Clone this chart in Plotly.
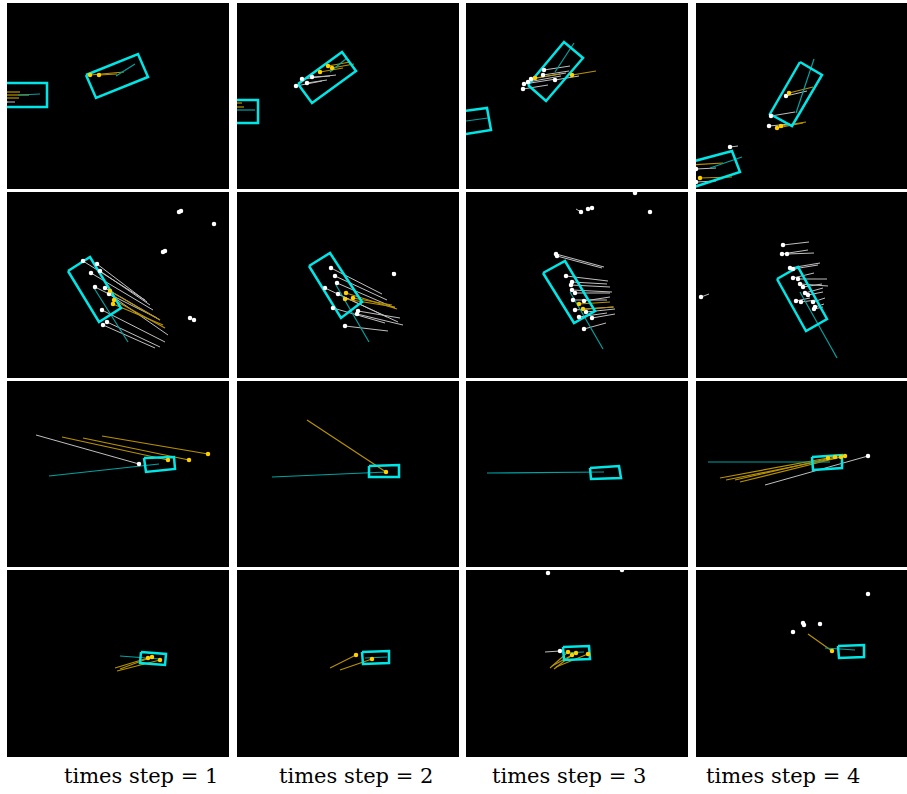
import plotly.graph_objects as go

# ---------------- data (panel-local pixel coordinates, y downward) -------------
STEP_LABELS = ["times step = 1", "times step = 2", "times step = 3", "times step = 4"]

# vehicle boxes: list of corner lists per panel
BOXES = {
    "r1c1": [[(79, 72), (131, 51), (141, 74), (89, 95)],
             [(-40, 80), (40, 80), (40, 104), (-40, 104)]],
    "r1c2": [[(61, 81), (105, 49), (119, 68), (75, 100)],
             [(-30, 97), (21, 97), (21, 120), (-30, 120)]],
    "r1c3": [[(62, 82), (98, 39), (117, 55), (80, 98)],
             [(-25, 111), (21, 105), (25, 127), (-25, 135)]],
    "r1c4": [[(104, 59), (126, 72), (96, 123), (74, 111)],
             [(-20, 163), (36, 148), (44, 169), (-20, 190)]],
    "r2c1": [[(61, 79), (83, 65), (114, 116), (92, 130)]],
    "r2c2": [[(72, 74), (93, 61), (125, 110), (104, 126)]],
    "r2c3": [[(77, 81), (99, 69), (129, 119), (108, 131)]],
    "r2c4": [[(81, 87), (102, 75), (131, 127), (110, 139)]],
    "r3c1": [[(137, 77), (167, 76), (168, 88), (139, 91)]],
    "r3c2": [[(132, 85), (162, 84), (162, 96), (132, 96)]],
    "r3c3": [[(124, 87), (153, 85), (155, 97), (125, 98)]],
    "r3c4": [[(116, 76), (146, 74), (146, 87), (117, 89)]],
    "r4c1": [[(134, 82), (159, 84), (158, 95), (133, 93)]],
    "r4c2": [[(125, 82), (152, 81), (152, 93), (126, 94)]],
    "r4c3": [[(97, 77), (123, 76), (124, 89), (98, 90)]],
    "r4c4": [[(142, 76), (168, 75), (168, 87), (143, 88)]],
}

# heading / planned-path lines (x0, y0, x1, y1)
HEADINGS = {
    "r1c1": [(109, 73, 128, 61), (11, 92, 33, 91)],
    "r1c2": [(93, 69, 110, 55), (0, 107, 18, 107)],
    "r1c3": [(89, 69, 108, 40), (0, 118, 22, 115)],
    "r1c4": [(100, 110, 118, 56), (14, 165, 46, 154)],
    "r2c1": [(87, 96, 121, 150)],
    "r2c2": [(99, 93, 132, 150)],
    "r2c3": [(104, 100, 137, 157)],
    "r2c4": [(104, 100, 141, 166)],
    "r3c1": [(42, 95, 152, 83)],
    "r3c2": [(35, 96, 150, 91)],
    "r3c3": [(21, 92, 138, 91)],
    "r3c4": [(12, 81, 134, 81)],
    "r4c1": [(113, 86, 153, 89)],
    "r4c2": [(128, 88, 150, 87)],
    "r4c3": [(96, 83, 118, 82)],
    "r4c4": [(129, 78, 159, 80)],
}

# white agents: dot at (x0, y0), trail to (x1, y1)
WHITE_TRAILS = {
    "r1c1": [(-2, 99, 8, 99)],
    "r1c2": [(59, 83, 85, 78), (65, 76, 99, 72), (75, 74, 93, 73), (70, 80, 90, 77)],
    "r1c3": [(57, 86, 82, 82), (58, 81, 90, 76), (62, 79, 95, 73), (65, 76, 100, 70),
             (78, 67, 104, 63), (77, 72, 103, 68), (89, 77, 113, 73)],
    "r1c4": [(90, 93, 111, 88), (75, 113, 99, 109), (73, 123, 94, 121),
             (34, 144, 42, 143), (0, 166, 20, 165), (0, 179, 20, 178)],
    "r2c1": [(76, 69, 138, 108), (90, 72, 140, 110), (93, 79, 143, 113), (84, 81, 146, 118),
             (88, 95, 150, 126), (98, 96, 153, 128), (102, 102, 161, 143),
             (95, 118, 158, 150), (100, 130, 153, 155), (96, 133, 148, 156)],
    "r2c2": [(94, 76, 145, 102), (98, 84, 150, 108), (100, 91, 158, 116), (88, 96, 150, 125),
             (101, 102, 161, 130), (96, 116, 148, 131), (108, 134, 151, 139),
             (120, 122, 166, 133), (121, 119, 163, 126), (157, 82, 155, 80)],
    "r2c3": [(90, 62, 138, 75), (91, 64, 136, 76), (100, 84, 142, 89), (106, 90, 141, 92),
             (105, 93, 144, 95), (106, 98, 146, 100), (109, 101, 144, 101),
             (107, 108, 141, 108), (118, 109, 144, 105), (109, 118, 147, 115),
             (120, 120, 149, 117), (126, 126, 149, 122), (113, 125, 141, 121),
             (118, 137, 140, 131), (115, 20, 110, 17)],
    "r2c4": [(87, 53, 113, 50), (86, 62, 112, 58), (91, 62, 118, 61), (94, 76, 124, 71),
             (97, 77, 122, 73), (97, 86, 118, 81), (102, 87, 131, 87), (104, 92, 132, 94),
             (107, 95, 126, 92), (109, 101, 127, 96), (112, 103, 127, 100),
             (100, 109, 114, 106), (105, 110, 120, 108), (117, 110, 129, 106),
             (118, 117, 127, 115), (119, 115, 128, 112), (5, 105, 13, 102)],
    "r3c1": [(132, 83, 29, 54)],
    "r3c4": [(172, 75, 69, 104)],
    "r4c3": [(94, 81, 79, 82)],
}

# gold agents: dot at (x0, y0), trail to (x1, y1)
GOLD_TRAILS = {
    "r1c1": [(83, 72, 117, 69), (92, 72, 110, 71), (-5, 89, 13, 89), (-5, 92, 22, 92),
             (-5, 95, 12, 95)],
    "r1c2": [(91, 63, 113, 59), (83, 69, 106, 65), (95, 65, 117, 61), (-5, 100, 5, 100),
             (-5, 104, 7, 104)],
    "r1c3": [(69, 75, 94, 71), (106, 72, 130, 68)],
    "r1c4": [(93, 90, 117, 84), (85, 123, 110, 119), (81, 125, 107, 120),
             (-5, 162, 27, 160), (4, 175, 36, 174)],
    "r2c1": [(103, 99, 153, 128), (107, 108, 158, 136), (106, 112, 156, 133)],
    "r2c2": [(109, 101, 160, 117), (108, 107, 158, 115), (116, 106, 155, 113)],
    "r2c3": [(113, 112, 144, 110), (117, 117, 148, 115)],
    "r3c1": [(161, 79, 55, 56), (182, 79, 76, 57), (201, 73, 95, 55)],
    "r3c2": [(149, 91, 70, 39)],
    "r3c4": [(132, 77, 24, 97), (139, 76, 39, 99), (149, 75, 44, 101), (145, 76, 30, 99)],
    "r4c1": [(141, 88, 108, 98), (145, 87, 113, 99), (153, 90, 110, 101)],
    "r4c2": [(119, 85, 93, 98), (135, 89, 103, 100)],
    "r4c3": [(102, 82, 84, 98), (106, 85, 88, 99), (122, 84, 90, 97), (110, 83, 86, 96)],
    "r4c4": [(136, 81, 112, 64)],
}

# isolated white points without visible trails
LONE_WHITE = {
    "r2c1": [(172, 20), (174, 19), (207, 32), (156, 60), (158, 59), (183, 126), (187, 128)],
    "r2c3": [(122, 17), (126, 16), (184, 20), (169, 1)],
    "r4c3": [(82, 3), (156, 0)],
    "r4c4": [(107, 53), (108, 55), (124, 54), (97, 62), (172, 24)],
}

# ---------------- layout constants ----------------
COL_X = [(7, 229), (237, 459), (466, 688), (696, 907)]
ROW_Y = [(3, 189), (192, 378), (381, 567), (570, 757)]
LABEL_X = [141, 356, 569, 783]
LABEL_Y = 776
FIG_W, FIG_H = 907, 794

BOX_COLOR = "#00E6E6"
HEAD_COLOR = "#00A3A3"
WHITE_LINE = "#BFBFBF"
WHITE_DOT = "#FFFFFF"
GOLD_LINE = "#B89200"
GOLD_DOT = "#FFD000"

fig = go.Figure()
layout = {}


def seg_xy(segs):
    xs, ys = [], []
    for (x0, y0, x1, y1) in segs:
        xs += [x0, x1, None]
        ys += [y0, y1, None]
    return xs, ys


k = 0
for r in range(4):
    for c in range(4):
        k += 1
        key = f"r{r+1}c{c+1}"
        xa = "x" if k == 1 else f"x{k}"
        ya = "y" if k == 1 else f"y{k}"
        x0p, x1p = COL_X[c]
        y0p, y1p = ROW_Y[r]
        w = x1p - x0p
        h = y1p - y0p
        layout["xaxis" if k == 1 else f"xaxis{k}"] = dict(
            domain=[x0p / FIG_W, x1p / FIG_W], range=[0, w], anchor=ya,
            visible=False, fixedrange=True)
        layout["yaxis" if k == 1 else f"yaxis{k}"] = dict(
            domain=[1 - y1p / FIG_H, 1 - y0p / FIG_H], range=[h, 0], anchor=xa,
            visible=False, fixedrange=True)

        segs = WHITE_TRAILS.get(key, [])
        if segs:
            xs, ys = seg_xy(segs)
            fig.add_trace(go.Scatter(x=xs, y=ys, mode="lines", xaxis=xa, yaxis=ya,
                                     line=dict(color=WHITE_LINE, width=1), hoverinfo="skip"))
        gsegs = GOLD_TRAILS.get(key, [])
        if gsegs:
            xs, ys = seg_xy(gsegs)
            fig.add_trace(go.Scatter(x=xs, y=ys, mode="lines", xaxis=xa, yaxis=ya,
                                     line=dict(color=GOLD_LINE, width=1.2), hoverinfo="skip"))
        hs = HEADINGS.get(key, [])
        if hs:
            xs, ys = seg_xy(hs)
            fig.add_trace(go.Scatter(x=xs, y=ys, mode="lines", xaxis=xa, yaxis=ya,
                                     line=dict(color=HEAD_COLOR, width=1.2), hoverinfo="skip"))
        for box in BOXES.get(key, []):
            bx = [p[0] for p in box] + [box[0][0]]
            by = [p[1] for p in box] + [box[0][1]]
            fig.add_trace(go.Scatter(x=bx, y=by, mode="lines", xaxis=xa, yaxis=ya,
                                     line=dict(color=BOX_COLOR, width=2.5), hoverinfo="skip"))
        if segs:
            fig.add_trace(go.Scatter(x=[s[0] for s in segs], y=[s[1] for s in segs],
                                     mode="markers", xaxis=xa, yaxis=ya,
                                     marker=dict(color=WHITE_DOT, size=4.5), hoverinfo="skip"))
        lw = LONE_WHITE.get(key, [])
        if lw:
            fig.add_trace(go.Scatter(x=[p[0] for p in lw], y=[p[1] for p in lw],
                                     mode="markers", xaxis=xa, yaxis=ya,
                                     marker=dict(color=WHITE_DOT, size=4.5), hoverinfo="skip"))
        if gsegs:
            fig.add_trace(go.Scatter(x=[s[0] for s in gsegs], y=[s[1] for s in gsegs],
                                     mode="markers", xaxis=xa, yaxis=ya,
                                     marker=dict(color=GOLD_DOT, size=4.5), hoverinfo="skip"))

annotations = []
for i, lab in enumerate(STEP_LABELS):
    annotations.append(dict(text=lab, x=LABEL_X[i] / FIG_W, y=1 - LABEL_Y / FIG_H,
                            xref="paper", yref="paper", showarrow=False,
                            xanchor="center", yanchor="middle",
                            font=dict(family="DejaVu Serif, Liberation Serif, serif",
                                      size=21, color="black")))

fig.update_layout(width=FIG_W, height=FIG_H, margin=dict(l=0, r=0, t=0, b=0),
                  paper_bgcolor="white", plot_bgcolor="black", showlegend=False,
                  annotations=annotations, **layout)

fig.write_html("out.html", config={"displayModeBar": False},
               post_script="document.body.style.margin='0';document.body.style.padding='0';")
